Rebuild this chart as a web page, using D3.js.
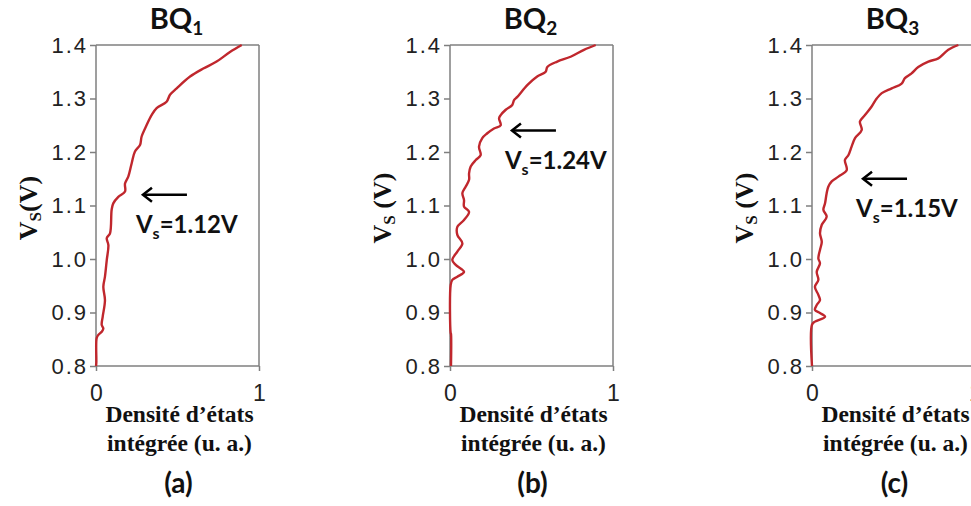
<!DOCTYPE html>
<html>
<head>
<meta charset="utf-8">
<script src="https://cdn.jsdelivr.net/npm/d3@7"></script>
<style>
  html, body { margin: 0; padding: 0; background: #fff; }
  svg { display: block; }
</style>
</head>
<body>
<svg id="chart" width="971" height="506"></svg>
<script>
// ---------------- data ----------------
const panelTitles = ["BQ", "BQ", "BQ"];
const panelSubs = ["1", "2", "3"];
const panelLetters = ["(a)", "(b)", "(c)"];
const vsValues = [1.12, 1.24, 1.15];
const yTickValues = [0.8, 0.9, 1.0, 1.1, 1.2, 1.3, 1.4];
const xTickValues = [0, 1];
const yLabelSpaced = [false, true, true];

const bq1Volt = [0.800, 0.806, 0.852, 0.858, 0.864, 0.870, 0.877, 0.892, 0.923, 0.948, 0.967, 0.998, 1.026, 1.039, 1.048, 1.092, 1.104, 1.116, 1.126, 1.141, 1.154, 1.179, 1.201, 1.213, 1.229, 1.250, 1.269, 1.282, 1.294, 1.307, 1.319, 1.341, 1.356, 1.369, 1.387, 1.400];
const bq1Dens = [0.000, 0.002, 0.004, 0.014, 0.035, 0.045, 0.035, 0.041, 0.055, 0.045, 0.055, 0.066, 0.076, 0.066, 0.086, 0.096, 0.106, 0.137, 0.178, 0.178, 0.198, 0.219, 0.239, 0.270, 0.280, 0.310, 0.341, 0.372, 0.433, 0.454, 0.495, 0.577, 0.658, 0.740, 0.822, 0.894];

const bq2Volt = [0.800, 0.860, 0.862, 0.951, 0.961, 0.967, 0.976, 0.989, 0.998, 1.014, 1.029, 1.045, 1.060, 1.073, 1.088, 1.098, 1.110, 1.123, 1.135, 1.148, 1.160, 1.173, 1.185, 1.194, 1.210, 1.226, 1.235, 1.244, 1.250, 1.263, 1.269, 1.279, 1.288, 1.297, 1.303, 1.325, 1.341, 1.350, 1.359, 1.369, 1.378, 1.391, 1.400];
const bq2Dens = [0.006, 0.006, 0.004, 0.004, 0.014, 0.045, 0.086, 0.035, 0.014, 0.045, 0.076, 0.045, 0.045, 0.086, 0.117, 0.086, 0.086, 0.076, 0.096, 0.117, 0.117, 0.127, 0.158, 0.188, 0.178, 0.198, 0.229, 0.270, 0.311, 0.301, 0.311, 0.342, 0.382, 0.393, 0.413, 0.474, 0.535, 0.587, 0.597, 0.658, 0.740, 0.822, 0.894];

const bq3Volt = [0.800, 0.877, 0.883, 0.892, 0.899, 0.905, 0.914, 0.923, 0.933, 0.948, 0.961, 0.976, 0.992, 1.001, 1.017, 1.032, 1.048, 1.064, 1.079, 1.092, 1.104, 1.123, 1.135, 1.145, 1.154, 1.166, 1.185, 1.194, 1.210, 1.226, 1.241, 1.257, 1.269, 1.285, 1.300, 1.310, 1.319, 1.328, 1.338, 1.347, 1.359, 1.369, 1.375, 1.391, 1.400];
const bq3Dens = [0.000, 0.000, 0.018, 0.080, 0.049, 0.018, 0.029, 0.049, 0.039, 0.018, 0.039, 0.029, 0.049, 0.039, 0.049, 0.060, 0.049, 0.060, 0.090, 0.070, 0.080, 0.090, 0.100, 0.121, 0.162, 0.213, 0.202, 0.223, 0.243, 0.264, 0.305, 0.294, 0.325, 0.366, 0.397, 0.428, 0.489, 0.550, 0.570, 0.611, 0.652, 0.714, 0.775, 0.836, 0.898];

const seriesVolt = [bq1Volt, bq2Volt, bq3Volt];
const seriesDens = [bq1Dens, bq2Dens, bq3Dens];

// ---------------- layout ----------------
const plotLefts = [96, 450, 812];
const plotW = 163;
const plotTop = 45;
const plotBottom = 366;
const arrowTipX = [0.288, 0.380, 0.313];   // in data units
const arrowLen = 44;

const svg = d3.select("#chart");
const sansBold = "Lato, 'Open Sans', sans-serif";
const serif = "'Liberation Serif', 'DejaVu Serif', serif";
const axisFont = "'Liberation Sans', Arial, sans-serif";
const frameColor = "#7f7f7f";

const y = d3.scaleLinear().domain([0.8, 1.4]).range([plotBottom, plotTop]);

seriesVolt.forEach((volts, i) => {
  const left = plotLefts[i];
  const x = d3.scaleLinear().domain([0, 1]).range([left, left + plotW]);
  const g = svg.append("g");

  // frame (top and right)
  g.append("line").attr("x1", left).attr("x2", left + plotW).attr("y1", plotTop).attr("y2", plotTop)
    .attr("stroke", frameColor).attr("stroke-width", 1.5);
  g.append("line").attr("x1", left + plotW).attr("x2", left + plotW).attr("y1", plotTop).attr("y2", plotBottom)
    .attr("stroke", frameColor).attr("stroke-width", 1.5);

  // y axis
  const yAxis = g.append("g").attr("transform", `translate(${left},0)`)
    .call(d3.axisLeft(y).tickValues(yTickValues).tickFormat(d3.format(".1f")).tickSize(6).tickPadding(2));
  yAxis.select(".domain").attr("stroke", frameColor).attr("stroke-width", 1.5).attr("d", `M0,${plotTop}V${plotBottom}`);
  yAxis.selectAll(".tick line").attr("stroke", frameColor).attr("stroke-width", 1.5);
  yAxis.selectAll(".tick text").attr("font-family", axisFont).attr("font-size", 22)
    .attr("letter-spacing", 2).attr("fill", "#222");

  // x axis
  const xAxis = g.append("g").attr("transform", `translate(0,${plotBottom})`)
    .call(d3.axisBottom(x).tickValues(xTickValues).tickFormat(d3.format("d")).tickSize(5).tickPadding(14));
  xAxis.select(".domain").attr("stroke", frameColor).attr("stroke-width", 1.5).attr("d", `M${left},0H${left + plotW}`);
  xAxis.selectAll(".tick line").attr("stroke", frameColor).attr("stroke-width", 1.5);
  xAxis.selectAll(".tick text").attr("font-family", axisFont).attr("font-size", 23).attr("fill", "#222");

  // curve
  const pts = volts.map((v, k) => [seriesDens[i][k], v]);
  const line = d3.line().x(d => x(d[0])).y(d => y(d[1])).curve(d3.curveCatmullRom.alpha(0.5));
  g.append("path").attr("d", line(pts)).attr("fill", "none")
    .attr("stroke", "#c0272d").attr("stroke-width", 2.4).attr("stroke-linejoin", "round");

  // title
  const cx = left + plotW / 2;
  const t = g.append("text").attr("x", cx - 1).attr("y", 29).attr("text-anchor", "middle")
    .attr("font-family", sansBold).attr("font-weight", "bold").attr("font-size", 29).attr("fill", "#111");
  t.append("tspan").text(panelTitles[i]);
  t.append("tspan").text(panelSubs[i]).attr("font-size", 19).attr("dy", 6);

  // y label
  const yl = g.append("text")
    .attr("transform", `translate(${left - 59},208) rotate(-90)`)
    .attr("text-anchor", "middle")
    .attr("font-family", serif).attr("font-weight", "bold").attr("font-size", 26).attr("fill", "#111");
  yl.append("tspan").text("V");
  yl.append("tspan").text("S").attr("font-size", 17).attr("dy", 4);
  yl.append("tspan").text(yLabelSpaced[i] ? " (V)" : "(V)").attr("dy", -4);

  // x label
  const xl = g.append("text").attr("text-anchor", "middle")
    .attr("font-family", serif).attr("font-weight", "bold").attr("font-size", 23.5).attr("fill", "#111");
  xl.append("tspan").attr("x", cx + 2).attr("y", 422).text("Densité d’états");
  xl.append("tspan").attr("x", cx + 2).attr("y", 451).text("intégrée (u. a.)");

  // panel letter
  g.append("text").attr("x", cx + 1).attr("y", 493).attr("text-anchor", "middle")
    .attr("font-family", sansBold).attr("font-weight", "bold").attr("font-size", 28).attr("fill", "#111")
    .text(panelLetters[i]);

  // arrow annotation
  const ay = y(vsValues[i]);
  const tipX = x(arrowTipX[i]);
  g.append("line").attr("x1", tipX + 1).attr("x2", tipX + arrowLen).attr("y1", ay).attr("y2", ay)
    .attr("stroke", "#000").attr("stroke-width", 2.5);
  g.append("path").attr("d", `M${tipX + 9},${ay - 7}L${tipX},${ay}L${tipX + 9},${ay + 7}`)
    .attr("fill", "none").attr("stroke", "#000").attr("stroke-width", 2.5).attr("stroke-linejoin", "miter");

  const at = g.append("text").attr("x", tipX - 7).attr("y", ay + 38)
    .attr("font-family", sansBold).attr("font-weight", "bold").attr("font-size", 24).attr("fill", "#111");
  at.append("tspan").text("V");
  at.append("tspan").text("s").attr("font-size", 16).attr("dy", 6);
  at.append("tspan").text("=" + vsValues[i].toFixed(2) + "V").attr("dy", -6);
});
</script>
</body>
</html>
